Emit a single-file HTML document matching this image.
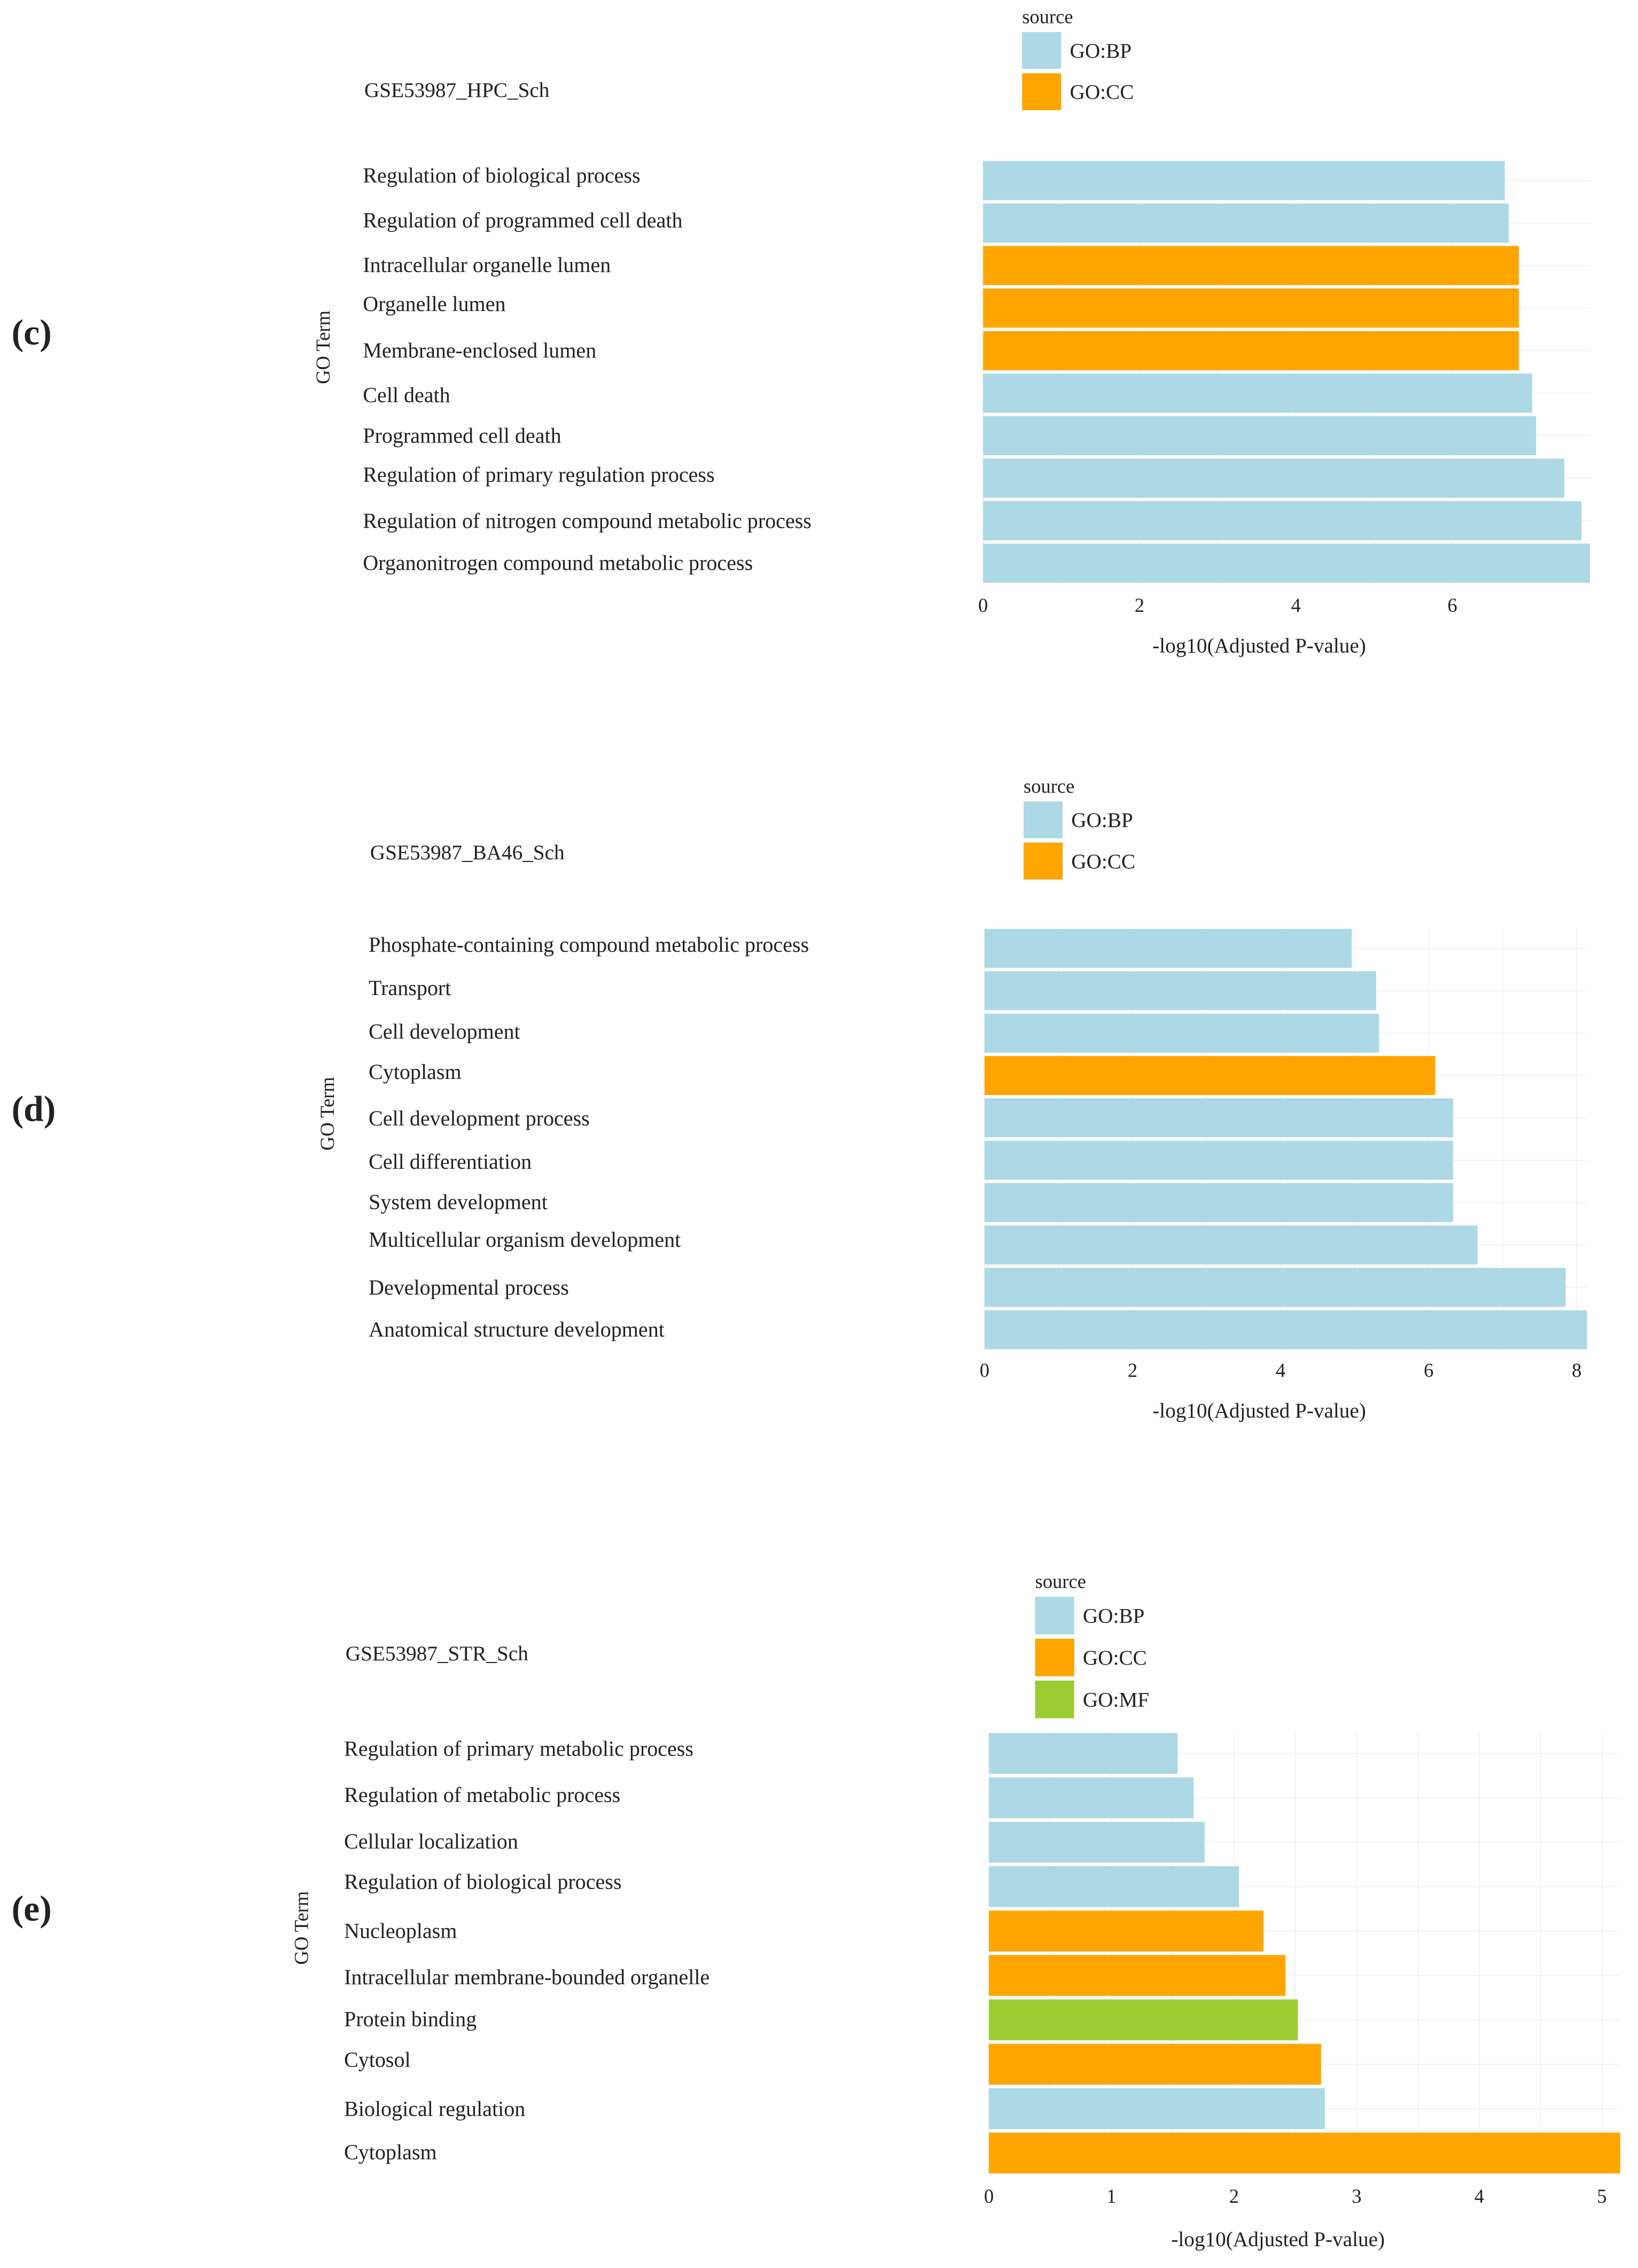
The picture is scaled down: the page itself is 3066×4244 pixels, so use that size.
<!DOCTYPE html>
<html><head><meta charset="utf-8">
<style>
html,body{margin:0;padding:0;background:#fff;}
svg{display:block;}
text{font-family:"Liberation Serif",serif;fill:#222;}
</style></head>
<body>
<svg id="fig" width="3066" height="4244" viewBox="0 0 1133 1568" xmlns="http://www.w3.org/2000/svg"></svg>
<script>
// Chart (c)
const cTerms = ["Regulation of biological process","Regulation of programmed cell death","Intracellular organelle lumen","Organelle lumen","Membrane-enclosed lumen","Cell death","Programmed cell death","Regulation of primary regulation process","Regulation of nitrogen compound metabolic process","Organonitrogen compound metabolic process"];
const cValues = [6.67,6.72,6.85,6.85,6.85,7.02,7.07,7.43,7.65,7.76];
const cSources = ["BP","BP","CC","CC","CC","BP","BP","BP","BP","BP"];
const cTicks = [0,2,4,6];
// Chart (d)
const dTerms = ["Phosphate-containing compound metabolic process","Transport","Cell development","Cytoplasm","Cell development process","Cell differentiation","System development","Multicellular organism development","Developmental process","Anatomical structure development"];
const dValues = [4.96,5.29,5.33,6.09,6.33,6.33,6.33,6.66,7.85,8.14];
const dSources = ["BP","BP","BP","CC","BP","BP","BP","BP","BP","BP"];
const dTicks = [0,2,4,6,8];
// Chart (e)
const eTerms = ["Regulation of primary metabolic process","Regulation of metabolic process","Cellular localization","Regulation of biological process","Nucleoplasm","Intracellular membrane-bounded organelle","Protein binding","Cytosol","Biological regulation","Cytoplasm"];
const eValues = [1.54,1.67,1.76,2.04,2.24,2.42,2.52,2.71,2.74,5.15];
const eSources = ["BP","BP","BP","BP","CC","CC","MF","CC","BP","CC"];
const eTicks = [0,1,2,3,4,5];

const COLORS = {BP:"#ADD8E6", CC:"#FFA500", MF:"#9ACD32"};
const NS = "http://www.w3.org/2000/svg";
const svg = document.getElementById("fig");
function mk(tag, attrs, parent){
  const el = document.createElementNS(NS, tag);
  for (const k in attrs) el.setAttribute(k, attrs[k]);
  (parent||svg).appendChild(el);
  return el;
}
function txt(s, attrs, parent){ const t = mk("text", attrs, parent); t.textContent = s; return t; }

function chart(cfg){
  const g = mk("g", {});
  
  
  const xs = v => cfg.x0 + v * cfg.unit;
  const n = cfg.terms.length;
  const step = (cfg.yBot - cfg.yTop) / n;
  const bh = step * 0.92;
  const maxX = cfg.gridMax;
  for (let i = 0; i < n; i++) {
    const cy = cfg.yTop + step * (i + 0.5);
    const gl = mk("line", {x1: cfg.x0, x2: maxX, y1: cy, y2: cy, stroke: "#f0f0f0", "stroke-width": 0.6}, g);
    
    
  }
  for (let v = cfg.ticks[0]; v <= cfg.ticks[cfg.ticks.length-1] + 0.5*cfg.minorStep; v += cfg.minorStep) {
    if (xs(v) > maxX) break;
    const gl = mk("line", {x1: xs(v), x2: xs(v), y1: cfg.yTop, y2: cfg.yBot, stroke: "#f0f0f0", "stroke-width": 0.6}, g);
    
    
  }
  for (let i = 0; i < n; i++) {
    const y = cfg.yTop + step * i + (step - bh) / 2;
    const r = mk("rect", {x: xs(0), y: y, width: xs(cfg.values[i]) - xs(0), height: bh, fill: COLORS[cfg.sources[i]]}, g);
    
    
    const t = txt(cfg.terms[i], {x: cfg.labelX, y: cfg.labelYs[i] + 5, "font-size": 14.8}, g);
    
    
  }
  cfg.ticks.forEach(v => {
    const t = txt(String(v), {x: xs(v), y: cfg.tickY + 5, "font-size": 13.5, "text-anchor": "middle", fill: "#444"}, g);
    
    
  });
  const at = txt("-log10(Adjusted P-value)", {x: cfg.titleCX, y: cfg.titleY + 5, "font-size": 14.5, "text-anchor": "middle"}, g);
  
  
  const yt = txt("GO Term", {x: 0, y: 0, "font-size": 13.5, "text-anchor": "middle", transform: `translate(${cfg.goX+5},${cfg.goY}) rotate(-90)`}, g);
  
  
  const ttl = txt(cfg.title, {x: cfg.titleX, y: cfg.titleTY + 5, "font-size": 14.5}, g);
  
  
  const pl = txt(cfg.panel, {x: 8, y: cfg.panelY + 8, "font-size": 25, "font-weight": "bold", fill: "#000"}, g);
  
  
  const lt = txt("source", {x: cfg.legX, y: cfg.legY + 5, "font-size": 13.5}, g);
  
  
  cfg.legKeys.forEach((k, j) => {
    const ky = cfg.legY + 11 + j * cfg.legStep;
    const kr = mk("rect", {x: cfg.legX, y: ky, width: 27, height: cfg.legStep - 3, fill: COLORS[k]}, g);
    
    
    const kt = txt("GO:" + k, {x: cfg.legX + 33, y: ky + (cfg.legStep - 3)/2 + 5, "font-size": 14.5}, g);
    
    
  });
}

chart({name:"chart-c", panel:"(c)", panelY:230, title:"GSE53987_HPC_Sch", titleX:252, titleTY:62,
  terms:cTerms, values:cValues, sources:cSources, ticks:cTicks, minorStep:1,
  x0:680, unit:54.1, yTop:110, yBot:404, gridMax:1100, labelX:251,
  labelYs:[121,152,183,210,242,273,301,328,360,389], tickY:418, titleY:446, titleCX:871,
  goX:223, goY:240, legX:707, legY:11, legStep:28.5, legKeys:["BP","CC"]});

chart({name:"chart-d", panel:"(d)", panelY:767, title:"GSE53987_BA46_Sch", titleX:256, titleTY:589,
  terms:dTerms, values:dValues, sources:dSources, ticks:dTicks, minorStep:1,
  x0:681, unit:51.2, yTop:641, yBot:934, gridMax:1098, labelX:255,
  labelYs:[653,683,713,741,773,803,831,857,890,919], tickY:947, titleY:975, titleCX:871,
  goX:226, goY:770, legX:708, legY:543, legStep:28.5, legKeys:["BP","CC"]});

chart({name:"chart-e", panel:"(e)", panelY:1320, title:"GSE53987_STR_Sch", titleX:239, titleTY:1143,
  terms:eTerms, values:eValues, sources:eSources, ticks:eTicks, minorStep:0.5,
  x0:684, unit:84.8, yTop:1197, yBot:1504, gridMax:1121, labelX:238,
  labelYs:[1209,1241,1273,1301,1335,1367,1396,1424,1458,1488], tickY:1518, titleY:1548, titleCX:884,
  goX:208, goY:1333, legX:716, legY:1093, legStep:29, legKeys:["BP","CC","MF"]});
</script>
</body></html>
